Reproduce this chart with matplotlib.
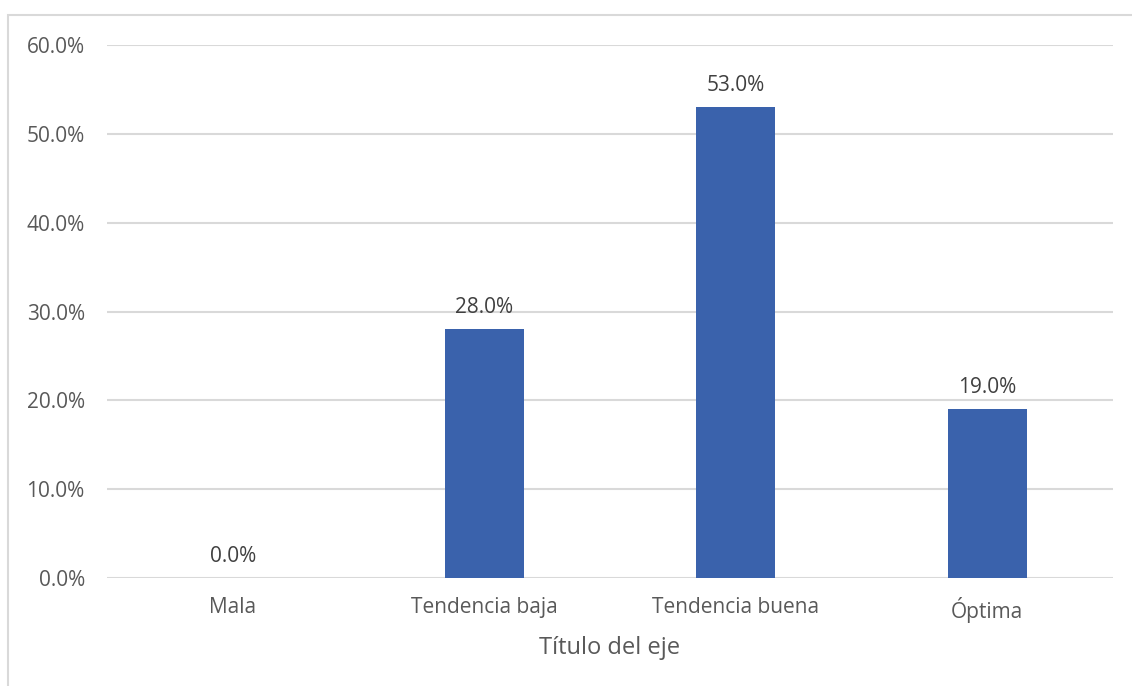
import matplotlib.pyplot as plt
from matplotlib.patches import Rectangle
from matplotlib.ticker import FuncFormatter

categorias = ['Mala', 'Tendencia baja', 'Tendencia buena', 'Óptima']
valores = [0.0, 28.0, 53.0, 19.0]

plt.rcParams['font.family'] = ['Open Sans', 'DejaVu Sans']
gris = '#595959'

fig = plt.figure(figsize=(11.32, 6.86), dpi=100)
fig.patch.set_facecolor('white')

# marco del area del grafico
marco = Rectangle((8 / 1132, -0.05), 1.1, 1 - 15 / 686 + 0.05,
                  transform=fig.transFigure, facecolor='white',
                  edgecolor='#D9D9D9', linewidth=1.5, zorder=-10)
fig.add_artist(marco)

ax = fig.add_axes([107 / 1132, 1 - 578 / 686, (1113 - 107) / 1132, (578 - 45) / 686])
ax.set_facecolor('none')
ax.set_zorder(1)

x = range(len(categorias))
barras = ax.bar(x, valores, width=0.314, color='#3A62AC', zorder=3)

for xi, v in zip(x, valores):
    ax.annotate(f'{v:.1f}%', (xi, v), xytext=(0, 8), textcoords='offset points',
                ha='center', va='bottom', fontsize=15, color='#404040')

ax.set_xlim(-0.5, 3.5)
ax.set_ylim(0, 60)
ax.set_yticks(range(0, 61, 10))
ax.yaxis.set_major_formatter(FuncFormatter(lambda v, p: f'{v:.1f}%'))
ax.grid(axis='y', color='#D9D9D9', linewidth=1.5, zorder=0)
ax.set_xticks(list(x))
ax.set_xticklabels(categorias)

for s in ax.spines.values():
    s.set_visible(False)
ax.tick_params(axis='both', length=0, labelsize=15, colors=gris)
ax.tick_params(axis='y', pad=16)
ax.tick_params(axis='x', pad=14)

ax.set_xlabel('Título del eje', fontsize=17, color=gris, labelpad=9)

plt.savefig('out.png', dpi=100)
